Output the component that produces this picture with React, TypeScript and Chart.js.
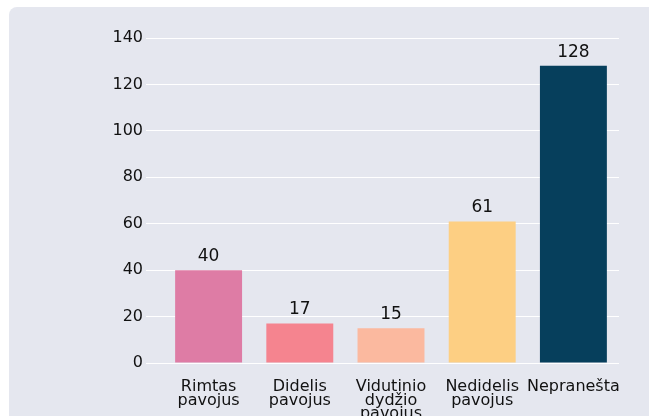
import React, { useEffect, useRef } from "react";
import { Chart, registerables } from "chart.js";

Chart.register(...registerables);

const categories: (string | string[])[] = [
  ["Rimtas", "pavojus"],
  ["Didelis", "pavojus"],
  ["Vidutinio", "dydžio", "pavojus"],
  ["Nedidelis", "pavojus"],
  "Nepranešta",
];
const values = [40, 17, 15, 61, 128];
const barColors = ["#de7ca5", "#f5848f", "#fbb99f", "#fdcf83", "#063f5c"];
const yTicks = [0, 20, 40, 60, 80, 100, 120, 140];

const FONT = "'DejaVu Sans', sans-serif";

const valueLabels = {
  id: "valueLabels",
  afterDatasetsDraw(chart: any) {
    const ctx = chart.ctx;
    const meta = chart.getDatasetMeta(0);
    ctx.save();
    ctx.font = `17px ${FONT}`;
    ctx.fillStyle = "#111111";
    ctx.textAlign = "center";
    ctx.textBaseline = "bottom";
    meta.data.forEach((bar: any, i: number) => {
      ctx.fillText(String(values[i]), bar.x, bar.y - 5);
    });
    ctx.restore();
  },
};

export default function App() {
  const ref = useRef<HTMLCanvasElement>(null);
  useEffect(() => {
    if (!ref.current) return;
    const chart = new Chart(ref.current, {
      type: "bar",
      data: {
        labels: categories,
        datasets: [
          {
            data: values,
            backgroundColor: barColors,
            borderWidth: 0,
            categoryPercentage: 1,
            barPercentage: 0.734,
          },
        ],
      },
      options: {
        animation: false,
        responsive: false,
        maintainAspectRatio: false,
        layout: { padding: { left: 0, right: 30, top: 31, bottom: 0 } },
        plugins: { legend: { display: false }, tooltip: { enabled: false } },
        scales: {
          x: {
            grid: { display: false },
            border: { display: false },
            ticks: {
              color: "#111111",
              font: { family: FONT, size: 16, lineHeight: 0.85 },
              padding: 9,
              maxRotation: 0,
              autoSkip: false,
            },
            afterFit: (s: any) => {
              s.height = 53;
            },
          },
          y: {
            min: 0,
            max: 140,
            afterBuildTicks: (s: any) => {
              s.ticks = yTicks.map((v) => ({ value: v }));
            },
            grid: { color: "#ffffff", lineWidth: 1, tickLength: 17, drawTicks: true },
            border: { display: false },
            ticks: {
              color: "#111111",
              font: { family: FONT, size: 16 },
              padding: 3,
            },
            afterFit: (s: any) => {
              s.width = 154;
            },
          },
        },
      },
      plugins: [valueLabels],
    });
    return () => chart.destroy();
  }, []);

  return (
    <div
      style={{
        position: "fixed",
        left: 9,
        top: 7,
        width: 700,
        height: 460,
        background: "#e5e7ef",
        borderRadius: 8,
        overflow: "hidden",
      }}
    >
      <canvas ref={ref} width={640} height={409} style={{ display: "block" }} />
    </div>
  );
}
